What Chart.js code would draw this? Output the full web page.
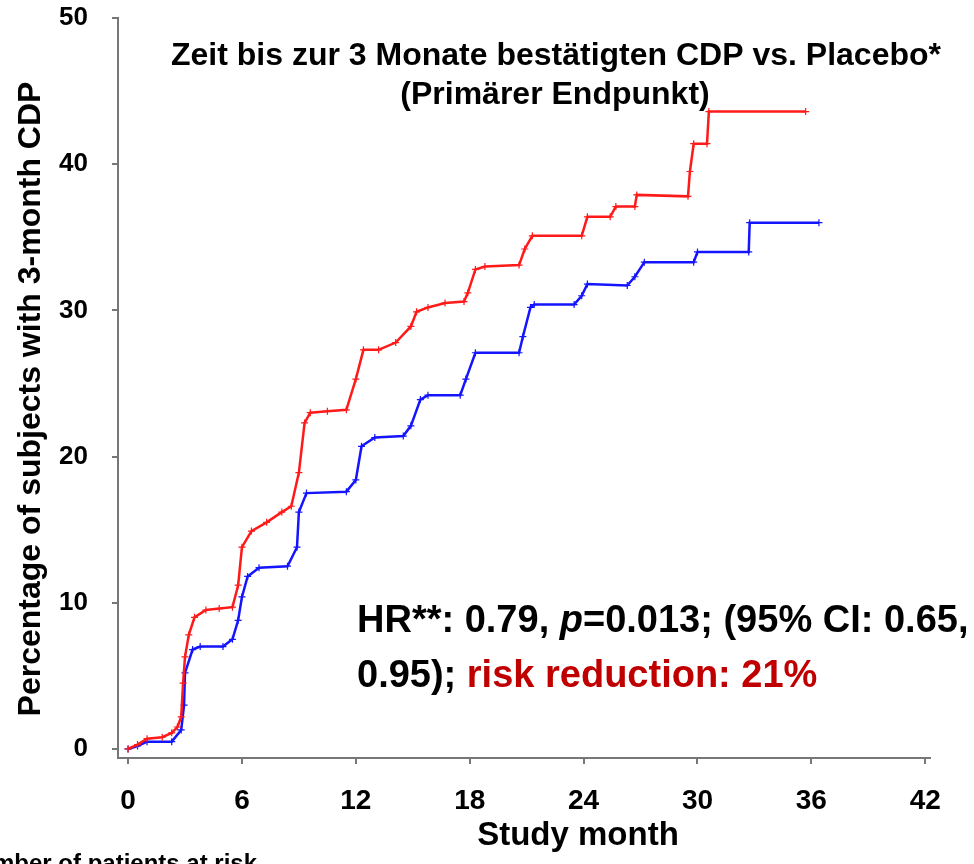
<!DOCTYPE html>
<html>
<head>
<meta charset="utf-8">
<script src="https://cdn.jsdelivr.net/npm/chart.js@4"></script>
<style>
body{margin:0;background:#fff}
</style>
</head>
<body>
<canvas id="kmChart" width="974" height="864"></canvas>
<script>

// Placebo (red) – cumulative % with 3-month CDP
let placeboMonths = [0,0.5,1.0,1.8,2.3,2.6,2.8,2.9,3.0,3.2,3.5,4.1,4.8,5.5,5.8,6.0,6.5,7.3,8.1,8.6,9.0,9.3,9.6,10.5,11.5,12.0,12.4,13.2,14.1,14.9,15.2,15.8,16.7,17.7,17.9,18.3,18.8,20.6,20.9,21.3,23.9,24.2,25.4,25.7,26.7,26.8,29.5,29.6,29.8,30.5,30.6,35.7]
let placeboPct = [0,0.3,0.7,0.8,1.1,1.5,2.2,4.5,6.3,7.8,9.0,9.5,9.6,9.7,11.2,13.8,14.9,15.5,16.2,16.6,18.9,22.3,23.0,23.1,23.2,25.3,27.3,27.3,27.8,28.9,29.9,30.2,30.5,30.6,31.2,32.8,33.0,33.1,34.2,35.1,35.1,36.4,36.4,37.1,37.1,37.9,37.8,39.5,41.4,41.4,43.6,43.6]

// Treatment (blue)
let treatMonths = [0,0.5,1.0,2.3,2.8,2.95,3.0,3.4,3.8,5.0,5.5,5.8,6.0,6.3,6.9,8.4,8.9,9.0,9.4,11.5,12.0,12.3,13.0,14.5,14.9,15.4,15.8,17.5,17.8,18.3,20.6,20.8,21.2,21.4,23.5,23.9,24.2,26.3,26.7,27.2,29.8,30.0,32.7,32.75,36.4]
let treatPct = [0,0.2,0.5,0.5,1.3,3.0,5.2,6.8,7.0,7.0,7.5,8.8,10.4,11.8,12.4,12.5,13.8,16.2,17.5,17.6,18.4,20.7,21.3,21.4,22.1,23.9,24.2,24.2,25.3,27.1,27.1,28.2,30.2,30.4,30.4,31.0,31.8,31.7,32.3,33.3,33.3,34.0,34.0,36.0,36.0]

let xTicks = [0,6,12,18,24,30,36,42]
let yTicks = [0,10,20,30,40,50]

let FONT = "'Liberation Sans', Arial, Helvetica, sans-serif"

function toPoints(xs,ys){
return xs.map((x,i)=>({x:x,y:ys[i]}))
}

let textPlugin = {
id:"texts",
afterDraw(chart){
let ctx = chart.ctx
ctx.save()
ctx.fillStyle = "#000"
ctx.textBaseline = "alphabetic"

// title
ctx.textAlign = "center"
ctx.font = "bold 32px " + FONT
ctx.fillText("Zeit bis zur 3 Monate bestätigten CDP vs. Placebo*",556,65)
ctx.fillText("(Primärer Endpunkt)",555,104)

// axis titles
ctx.font = "bold 33px " + FONT
ctx.fillText("Study month",578,845)

ctx.save()
ctx.translate(40,399)
ctx.rotate(-Math.PI/2)
ctx.font = "bold 32px " + FONT
ctx.fillText("Percentage of subjects with 3-month CDP",0,0)
ctx.restore()

// cut-off caption at bottom
ctx.textAlign = "left"
ctx.font = "bold 24px " + FONT
ctx.fillText("Number of patients at risk",-39,871)

// HR annotation
let parts1 = [
{t:"HR**: 0.79, ",f:"bold 38px ",c:"#000"},
{t:"p",f:"italic bold 38px ",c:"#000"},
{t:"=0.013; (95% CI: 0.65,",f:"bold 38px ",c:"#000"}
]
let parts2 = [
{t:"0.95); ",f:"bold 38px ",c:"#000"},
{t:"risk reduction: 21%",f:"bold 38px ",c:"#c00000"}
]
drawParts(ctx,parts1,357,632)
drawParts(ctx,parts2,357,687)

ctx.restore()
}
}

function drawParts(ctx,parts,x,y){
parts.forEach(p=>{
ctx.font = p.f + FONT
ctx.fillStyle = p.c
ctx.fillText(p.t,x,y)
x += ctx.measureText(p.t).width
})
}

new Chart(document.getElementById("kmChart"),{

type:"scatter",

data:{
datasets:[
{
label:"Placebo",
data:toPoints(placeboMonths,placeboPct),
showLine:true,
borderColor:"#ff1a1a",
backgroundColor:"#ff1a1a",
borderWidth:2.5,
pointStyle:"cross",
pointRadius:3.5,
pointBorderWidth:1.2
},
{
label:"Treatment",
data:toPoints(treatMonths,treatPct),
showLine:true,
borderColor:"#1414ff",
backgroundColor:"#1414ff",
borderWidth:2.5,
pointStyle:"cross",
pointRadius:3.5,
pointBorderWidth:1.2
}
]
},

options:{
responsive:false,
devicePixelRatio:1,
animation:false,
layout:{padding:{top:18,right:44,left:0,bottom:0}},
plugins:{
legend:{display:false},
tooltip:{enabled:false}
},
scales:{
x:{
type:"linear",
min:-0.53,
max:42.25,
afterBuildTicks(scale){ scale.ticks = xTicks.map(v=>({value:v})) },
afterFit(scale){ scale.height = 106; scale.paddingLeft = 0; scale.paddingRight = 0 },
grid:{drawOnChartArea:false,drawTicks:true,tickLength:6,color:"#777",lineWidth:2},
border:{display:true,color:"#777",width:2},
ticks:{color:"#000",padding:20,maxRotation:0,font:{family:FONT,size:28,weight:"bold"}}
},
y:{
type:"linear",
min:-0.62,
max:50,
afterBuildTicks(scale){ scale.ticks = yTicks.map(v=>({value:v})) },
afterFit(scale){ scale.width = 118; scale.paddingTop = 0; scale.paddingBottom = 0 },
grid:{drawOnChartArea:false,drawTicks:true,tickLength:6,color:"#777",lineWidth:2},
border:{display:true,color:"#777",width:2},
ticks:{color:"#000",padding:24,font:{family:FONT,size:26,weight:"bold"}}
}
}
},

plugins:[textPlugin]

})

</script>
</body>
</html>
